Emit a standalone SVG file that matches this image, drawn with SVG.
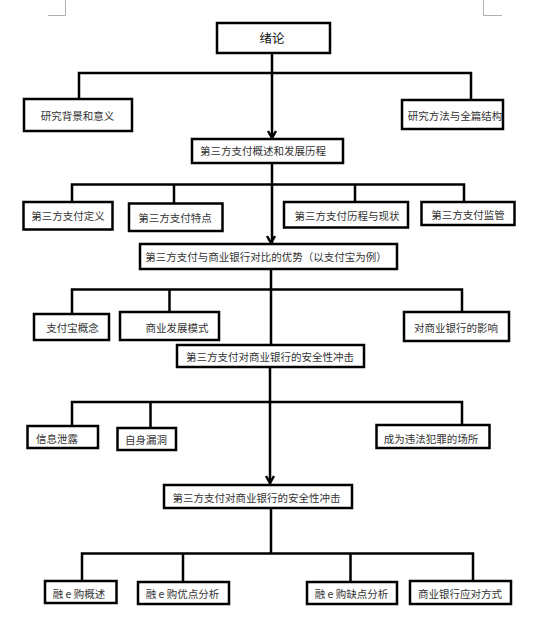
<svg xmlns="http://www.w3.org/2000/svg" width="540" height="629" viewBox="0 0 540 629">
<style>
.box{fill:#fff;stroke:#000;stroke-width:2.5}
.ln{fill:none;stroke:#000;stroke-width:2.5}
.cm{fill:none;stroke:#b0b0b0;stroke-width:1}
text{font-family:"Noto Sans CJK SC","Liberation Sans",sans-serif;font-size:10.5px;fill:#333;text-anchor:middle;dominant-baseline:central}
.big{font-size:12.5px;fill:#111}
</style>
<rect width="540" height="629" fill="#fff"/>
<g id="cornermarks">
<path class="cm" d="M65.5,0V15.5H48M483.5,0V15.5H502"/>
</g>
<g id="connectors">
<path class="ln" d="M272,53V139M79,99V73H471V100"/>
<path class="ln" d="M268,131L272,138L276,131"/>
<path class="ln" d="M272,163V244M72,202V184.5H464V202M174,203.5V184.5M355,202V184.5"/>
<path class="ln" d="M267,236L271,243L275,236"/>
<path class="ln" d="M271,269V345M72,314V289.5H462V312M169.5,312V289.5"/>
<path class="ln" d="M270,367V484M72,426V402H462V425M150.5,428V402"/>
<path class="ln" d="M266,476L270,483L274,476"/>
<path class="ln" d="M271,508V553.5M82,581V553.5H473V581M183,582V553.5M350.5,582V553.5"/>
</g>
<g id="n_root"><rect class="box" x="217" y="23" width="113" height="30"/><text class="big" x="272" y="37">绪论</text></g>
<g id="n_bg"><rect class="box" x="24" y="99" width="108" height="32"/><text x="77.5" y="115">研究背景和意义</text></g>
<g id="n_method"><rect class="box" x="402" y="100" width="101" height="29"/><text x="455" y="115">研究方法与全篇结构</text></g>
<g id="n_overview"><rect class="box" x="192" y="139" width="151" height="24"/><text x="263" y="150.5">第三方支付概述和发展历程</text></g>
<g id="n_def"><rect class="box" x="23.5" y="202" width="89" height="27.5"/><text x="68" y="215.5">第三方支付定义</text></g>
<g id="n_feat"><rect class="box" x="129" y="203.5" width="93.5" height="27.5"/><text x="175" y="217.5">第三方支付特点</text></g>
<g id="n_hist"><rect class="box" x="284" y="202" width="124" height="25.5"/><text x="347" y="215">第三方支付历程与现状</text></g>
<g id="n_reg"><rect class="box" x="421.5" y="202" width="93" height="23"/><text x="468" y="214">第三方支付监管</text></g>
<g id="n_adv"><rect class="box" x="140" y="244" width="257" height="25"/><text x="266" y="256.5">第三方支付与商业银行对比的优势（以支付宝为例）</text></g>
<g id="n_alipay"><rect class="box" x="34" y="314" width="75" height="26"/><text x="72.5" y="327">支付宝概念</text></g>
<g id="n_model"><rect class="box" x="120" y="312" width="99" height="28"/><text x="177" y="327">商业发展模式</text></g>
<g id="n_effect"><rect class="box" x="404" y="312" width="105" height="29"/><text x="456" y="327">对商业银行的影响</text></g>
<g id="n_sec1"><rect class="box" x="177" y="345" width="187" height="22"/><text x="270" y="356.5">第三方支付对商业银行的安全性冲击</text></g>
<g id="n_leak"><rect class="box" x="27.5" y="426" width="70.5" height="22"/><text x="57" y="438.5">信息泄露</text></g>
<g id="n_vuln"><rect class="box" x="117.5" y="428" width="58.5" height="22"/><text x="146" y="439.5">自身漏洞</text></g>
<g id="n_crime"><rect class="box" x="376.5" y="425" width="113" height="23"/><text x="431" y="438">成为违法犯罪的场所</text></g>
<g id="n_sec2"><rect class="box" x="164" y="485" width="188" height="23"/><text x="256.5" y="497">第三方支付对商业银行的安全性冲击</text></g>
<g id="n_rongov"><rect class="box" x="45" y="581" width="71.5" height="22"/><text x="79" y="593">融 e 购概述</text></g>
<g id="n_rongpro"><rect class="box" x="138" y="582" width="91" height="22"/><text x="182.5" y="593">融 e 购优点分析</text></g>
<g id="n_rongcon"><rect class="box" x="307" y="582" width="90" height="22"/><text x="351.5" y="593">融 e 购缺点分析</text></g>
<g id="n_resp"><rect class="box" x="410" y="581" width="101" height="23"/><text x="460" y="593">商业银行应对方式</text></g>
</svg>
